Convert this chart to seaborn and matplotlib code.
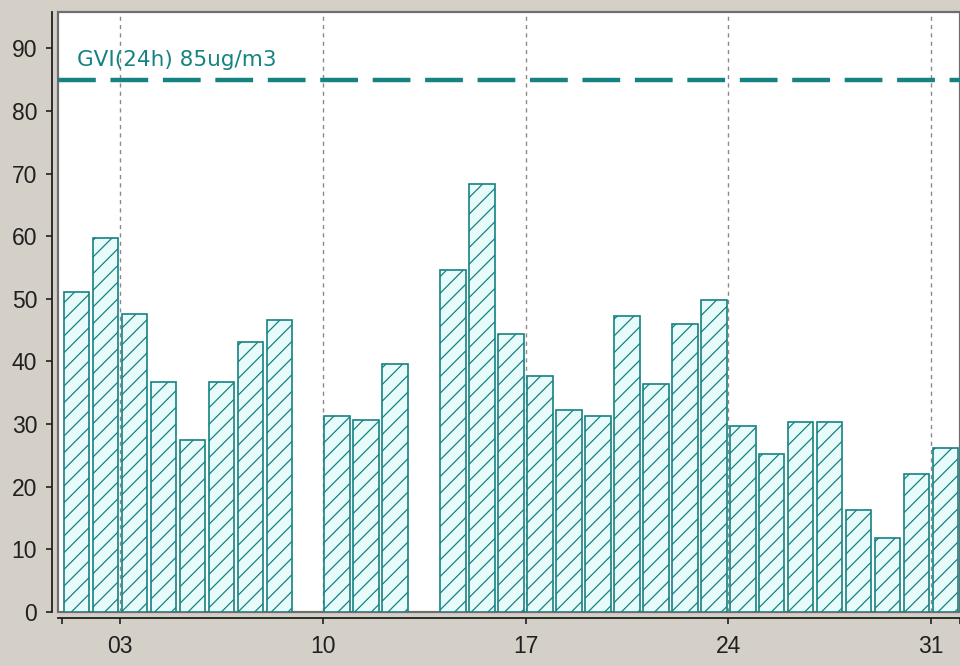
import matplotlib
matplotlib.use("Agg")
import matplotlib.pyplot as plt
import numpy as np
import pandas as pd
import seaborn as sns

# daily PM10 24h means (ug/m3), days 9 and 13 missing
days = list(range(1, 32))
values = [51.1, 59.7, 47.6, 36.7, 27.5, 36.7, 43.1, 46.6, np.nan, 31.3,
          30.7, 39.6, np.nan, 54.6, 68.4, 44.4, 37.7, 32.3, 31.3, 47.3,
          36.4, 46.0, 49.8, 29.7, 25.2, 30.4, 30.4, 16.3, 11.8, 22.0, 26.2]
week_ticks = [3, 10, 17, 24, 31]
week_labels = ["03", "10", "17", "24", "31"]
month_edges = [1, 32]
limit_value = 85
limit_label = "GVI(24h) 85ug/m3"

teal = "#168282"
fill = "#e8fbfb"
bg = "#d4d0c8"

sns.set_style("white")
plt.rcParams['font.family'] = ['Liberation Sans', 'DejaVu Sans']
plt.rcParams['hatch.color'] = teal
plt.rcParams['hatch.linewidth'] = 0.9

df = pd.DataFrame({"day": days, "value": values}).dropna()
df["pos"] = df["day"] + 0.5   # bar covers the whole day

fig = plt.figure(figsize=(9.6, 6.66), dpi=100, facecolor=bg)
ax = fig.add_axes([58 / 960, 54 / 666, 902 / 960, 600 / 666])
ax.set_facecolor("white")

sns.barplot(data=df, x="pos", y="value", native_scale=True, width=0.88,
            color=fill, saturation=1, edgecolor=teal, linewidth=1.2,
            hatch="//", errorbar=None, ax=ax, zorder=2)

ax.axhline(limit_value, color=teal, lw=3.2, dashes=(8.5, 3.3), zorder=3)
ax.text(1.5, limit_value + 1.6, limit_label, color=teal, fontsize=15.5,
        family=['DejaVu Sans'], va="bottom", ha="left", zorder=4)

ax.set_xlim(0.86, 32.0)
ax.set_ylim(0, 95.8)
ax.set_xticks(week_ticks)
ax.set_xticklabels(week_labels)
ax.set_xticks(month_edges, minor=True)
ax.set_yticks(range(0, 100, 10))
ax.grid(axis="x", which="major", color="#8a8a8a", lw=1, dashes=(3, 3), zorder=1)
ax.set_xlabel("")
ax.set_ylabel("")

for s in ["top", "right"]:
    ax.spines[s].set_visible(False)
ax.spines["left"].set_position(("outward", 4))
ax.spines["bottom"].set_position(("outward", 4.5))
ax.spines["left"].set_color("#202020")
ax.spines["bottom"].set_color("#202020")
ax.spines["left"].set_linewidth(1.3)
ax.spines["bottom"].set_linewidth(1.3)
ax.patch.set_edgecolor("#6e6e6e")
ax.patch.set_linewidth(1.6)

ax.tick_params(axis="both", which="both", direction="out", length=4, width=1.2,
               bottom=True, left=True, colors="#202020", labelsize=16.5,
               labelcolor="#202020")
ax.tick_params(axis="y", pad=7)
ax.tick_params(axis="x", pad=8)

fig.savefig("out.png", dpi=100, facecolor=bg)
